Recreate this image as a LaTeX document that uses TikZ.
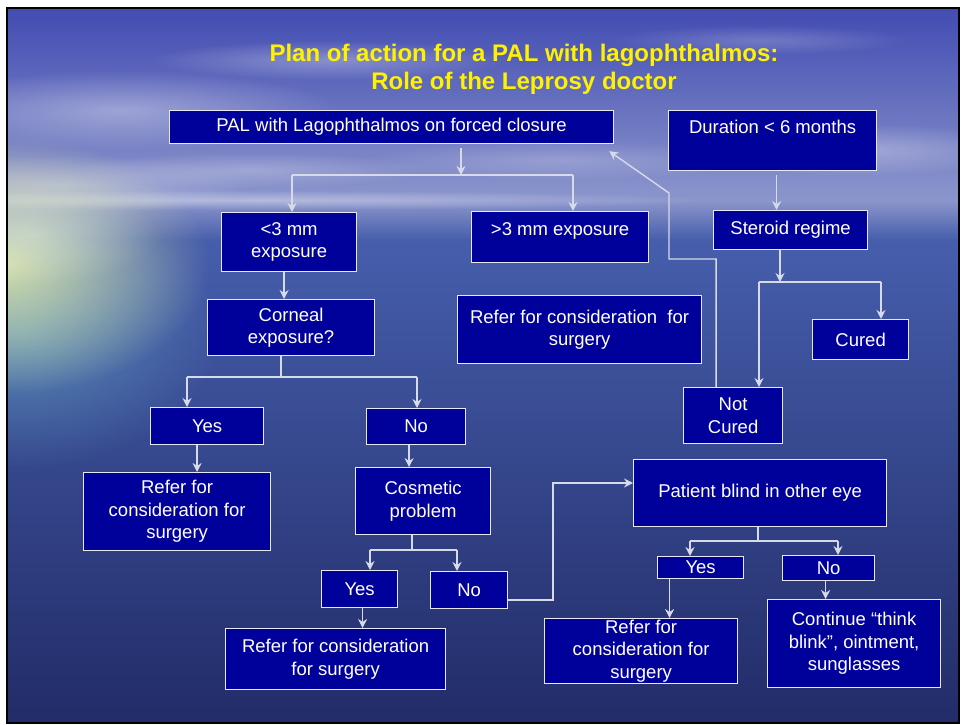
\documentclass[tikz,border=0pt]{standalone}
\usepackage{fontspec}
\setmainfont{Liberation Sans}
\usetikzlibrary{arrows.meta, fadings}
\definecolor{boxblue}{RGB}{0,0,155}
\definecolor{boxline}{RGB}{232,232,242}
\definecolor{wirecol}{RGB}{215,218,232}
\definecolor{skytop}{RGB}{66,76,178}
\definecolor{skylow}{RGB}{140,150,204}
\definecolor{seamid}{RGB}{70,94,172}
\definecolor{seabot}{RGB}{34,44,104}
\definecolor{glow}{RGB}{226,236,170}
\definecolor{teal}{RGB}{110,185,205}
\tikzfading[name=softedge, inner color=transparent!0, outer color=transparent!100]

\begin{document}
\begin{tikzpicture}[x=1pt, y=-1pt, >={Stealth[length=9pt, width=9pt, inset=3pt]},
    box/.style={draw=boxline, fill=boxblue, text=white, line width=1.2pt, inner sep=0pt,
      anchor=north west, align=center, font=\fontsize{18.5}{22.5}\selectfont},
    title/.style={text=yellow, align=center, font=\fontsize{24}{28}\bfseries},
    wire/.style={draw=wirecol, line width=1.4pt},
    arr/.style={wire, ->},
    haze/.style={path fading=softedge}]
    \useasboundingbox (0, 0) rectangle (962, 725);
    \fill [white] (0, 0) rectangle (962, 725);
    \begin{scope}
    \clip (8, 8) rectangle (959, 722);
    \shade [top color=skytop, bottom color=skylow] (8, 8) rectangle (959, 201);
    \shade [top color=skylow, bottom color=seamid] (8, 200) rectangle (959, 240);
    \shade [top color=seamid, bottom color=seabot] (8, 239) rectangle (959, 722);
    \foreach \cx/\cy/\rx/\ry/\o in {120/110/220pt/40pt/.35, 60/185/200pt/30pt/.3,
      330/60/180pt/20pt/.3, 560/160/200pt/20pt/.2, 860/150/170pt/26pt/.3,
      760/40/150pt/15pt/.2, 250/170/180pt/18pt/.25, 260/200/450pt/10pt/.35}
    \fill [white, haze, opacity=\o] (\cx, \cy) ellipse [x radius=\rx, y radius=\ry];
    \fill [teal, haze, opacity=.55] (20, 330) ellipse [x radius=200pt, y radius=140pt];
    \fill [glow, haze, opacity=.9] (0, 265) ellipse [x radius=210pt, y radius=130pt];
    \fill [white, haze, opacity=.3] (30, 235) ellipse [x radius=130pt, y radius=50pt];
    \end{scope}
    \draw [line width=2pt] (7, 8) rectangle (959, 723);

    \node [title] (head) at (524, 69) {Plan of action for a PAL with lagophthalmos:\\Role of the Leprosy doctor};

    \node [box, minimum width=444pt, minimum height=33pt] (pal) at (169, 110) {PAL with Lagophthalmos on forced closure};
    \node [box, minimum width=208pt, text height=22.6pt, text depth=37.4pt] (dur) at (668, 110) {Duration < 6 months};
    \node [box, minimum width=135pt, minimum height=59pt] (lt3) at (221, 212) {<3 mm\\exposure};
    \node [box, minimum width=177pt, text height=23.6pt, text depth=27.4pt] (gt3) at (471, 211) {>3 mm exposure};
    \node [box, minimum width=154pt, minimum height=39pt] (ster) at (713, 210) {Steroid regime};
    \node [box, minimum width=167pt, minimum height=56pt] (corn) at (207, 299) {Corneal\\exposure?};
    \node [box, minimum width=244pt, minimum height=68pt] (refm) at (457, 295) {Refer for consideration \ for\\surgery};
    \node [box, minimum width=96pt, minimum height=40pt] (cured) at (812, 319) {Cured};
    \node [box, minimum width=99pt, minimum height=56pt] (notc) at (683, 387) {Not\\Cured};
    \node [box, minimum width=113pt, minimum height=37pt] (yes1) at (150, 407) {Yes};
    \node [box, minimum width=99pt, minimum height=36pt] (no1) at (366, 408) {No};
    \node [box, minimum width=187pt, minimum height=78pt] (ref1) at (83, 472) {Refer for\\consideration for\\surgery};
    \node [box, minimum width=135pt, minimum height=67pt] (cosm) at (355, 467) {Cosmetic\\problem};
    \node [box, minimum width=253pt, minimum height=67pt] (blind) at (633, 459) {Patient blind in other eye};
    \node [box, minimum width=76pt, minimum height=37pt] (yes2) at (321, 570) {Yes};
    \node [box, minimum width=77pt, minimum height=37pt] (no2) at (430, 571) {No};
    \node [box, minimum width=220pt, minimum height=61pt] (ref2) at (225, 628) {Refer for consideration\\for surgery};
    \node [box, minimum width=86pt, minimum height=22pt] (yes3) at (657, 556) {Yes};
    \node [box, minimum width=92pt, minimum height=25pt] (no3) at (782, 555) {No};
    \node [box, minimum width=193pt, minimum height=65pt] (ref3) at (544, 618) {Refer for\\consideration for\\surgery};
    \node [box, minimum width=173pt, minimum height=88pt] (cont) at (767, 599) {Continue “think\\blink”, ointment,\\sunglasses};

    \coordinate (j1) at (461, 175);
    \coordinate (j1a) at (292, 175);
    \coordinate (j1b) at (573, 175);
    \coordinate (j2) at (281, 377);
    \coordinate (j2a) at (187, 377);
    \coordinate (j2b) at (417, 377);
    \coordinate (j3) at (412, 550);
    \coordinate (j3a) at (370, 550);
    \coordinate (j3b) at (457, 550);
    \coordinate (j4) at (553, 483);
    \coordinate (j5) at (758, 541);
    \coordinate (j5a) at (690, 541);
    \coordinate (j5b) at (838, 541);
    \coordinate (j6) at (780, 282);
    \coordinate (j6a) at (759, 282);
    \coordinate (j6b) at (881, 282);
    \coordinate (back1) at (669, 259);
    \coordinate (back2) at (669, 193);

    \draw [arr] ([yshift=-4pt]pal.south -| j1) -- (j1);
    \draw [wire] (j1a) -- (j1b);
    \draw [arr] (j1a) -- (j1a |- lt3.north);
    \draw [arr] (j1b) -- (j1b |- gt3.north);
    \draw [arr] ([xshift=-5pt]lt3.south) -- ([xshift=-5pt]lt3.south |- corn.north);
    \draw [wire] (corn.south -| j2) -- (j2) (j2a) -- (j2b);
    \draw [arr] (j2a) -- (j2a |- yes1.north);
    \draw [arr] (j2b) -- (j2b |- no1.north);
    \draw [arr] ([xshift=-10pt]yes1.south) -- ([xshift=-10pt]yes1.south |- ref1.north);
    \draw [arr] ([xshift=-7pt]no1.south) -- ([xshift=-7pt]no1.south |- cosm.north);
    \draw [wire] (cosm.south -| j3) -- (j3) (j3a) -- (j3b);
    \draw [arr] (j3a) -- (j3a |- yes2.north);
    \draw [arr] (j3b) -- (j3b |- no2.north);
    \draw [arr] ([xshift=3pt]yes2.south) -- ([xshift=3pt]yes2.south |- ref2.north);
    \draw [arr] ([yshift=-10pt]no2.east) -| (j4) -- (j4 -| blind.west);
    \draw [wire] (blind.south -| j5) -- (j5) (j5a) -- (j5b);
    \draw [arr] (j5a) -- (j5a |- yes3.north);
    \draw [arr] (j5b) -- (j5b |- no3.north);
    \draw [arr] ([xshift=-31pt]yes3.south) -- ([xshift=-31pt]yes3.south |- ref3.north);
    \draw [arr] ([xshift=-3pt]no3.south) -- ([xshift=-3pt]no3.south |- cont.north);
    \draw [arr] ([xshift=4pt, yshift=-4pt]dur.south) -- ([xshift=4pt]dur.south |- ster.north);
    \draw [arr] (ster.south -| j6) -- (j6);
    \draw [wire] (j6a) -- (j6b);
    \draw [arr] (j6a) -- (j6a |- notc.north);
    \draw [arr] (j6b) -- (j6b |- cured.north);
    \draw [arr] ([xshift=-17pt]notc.north) |- (back1) -- (back2) -- ([xshift=-5pt, yshift=-7pt]pal.south east);
\end{tikzpicture}
\end{document}
